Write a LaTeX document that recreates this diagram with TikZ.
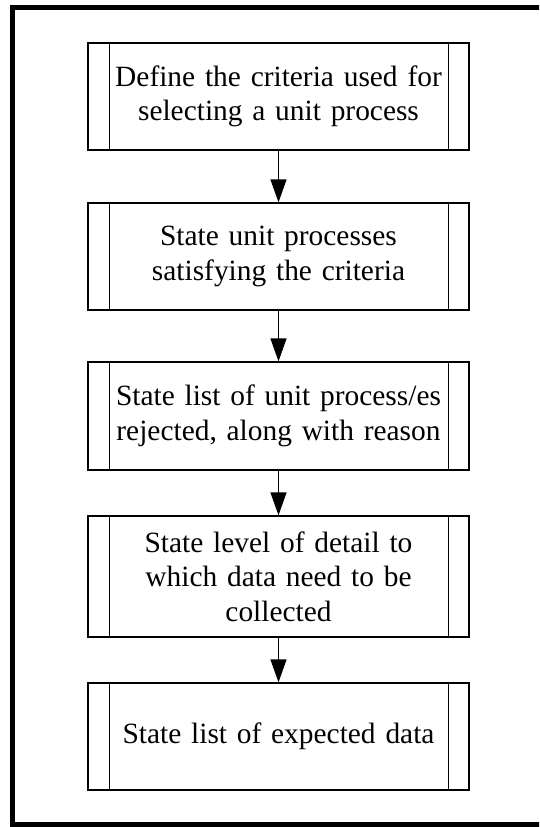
\documentclass[tikz,border=0pt]{standalone}
\usepackage{fontspec}
\setmainfont{Liberation Serif}
\usetikzlibrary{arrows.meta}

\tikzset{
  procbox/.style={draw, line width=1.3pt, minimum width=381pt, text width=350pt,
    align=center, inner sep=0pt,
    font=\fontsize{29.4}{34.5}\selectfont},
  flow/.style={line width=1.3pt, -{Triangle[length=23pt,width=16pt]}},
  frame/.style={line width=5pt}
}

\begin{document}
\begin{tikzpicture}[x=1pt,y=-1pt]
  \useasboundingbox (0,0) rectangle (539,827);
  \clip (0,0) rectangle (539,827);

  % outer frame
  \draw[frame] (12,7.5) rectangle (560,824.5);

  % process steps
  \node[procbox, minimum height=107pt] (s1) at (278.5,96.5)
    {Define the criteria used for\\ selecting a unit process};
  \node[procbox, minimum height=107pt] (s2) at (278.5,256.5)
    {State unit processes\\ satisfying the criteria};
  \node[procbox, minimum height=108pt] (s3) at (278.5,416)
    {State list of unit process/es\\ rejected, along with reason};
  \node[procbox, minimum height=121pt] (s4) at (278.5,576.5)
    {State level of detail to\\ which data need to be\\ collected};
  \node[procbox, minimum height=107pt] (s5) at (278.5,736.5)
    {State list of expected data};

  % side bars of the predefined-process symbol
  \foreach \n in {s1,s2,s3,s4,s5} {
    \draw[line width=1.6pt] ([xshift=22pt]\n.north west) -- ([xshift=22pt]\n.south west);
    \draw[line width=1.6pt] ([xshift=-21pt]\n.north east) -- ([xshift=-21pt]\n.south east);
  }

  % connectors
  \draw[flow] (s1) -- (s2);
  \draw[flow] (s2) -- (s3);
  \draw[flow] (s3) -- (s4);
  \draw[flow] (s4) -- (s5);
\end{tikzpicture}
\end{document}
